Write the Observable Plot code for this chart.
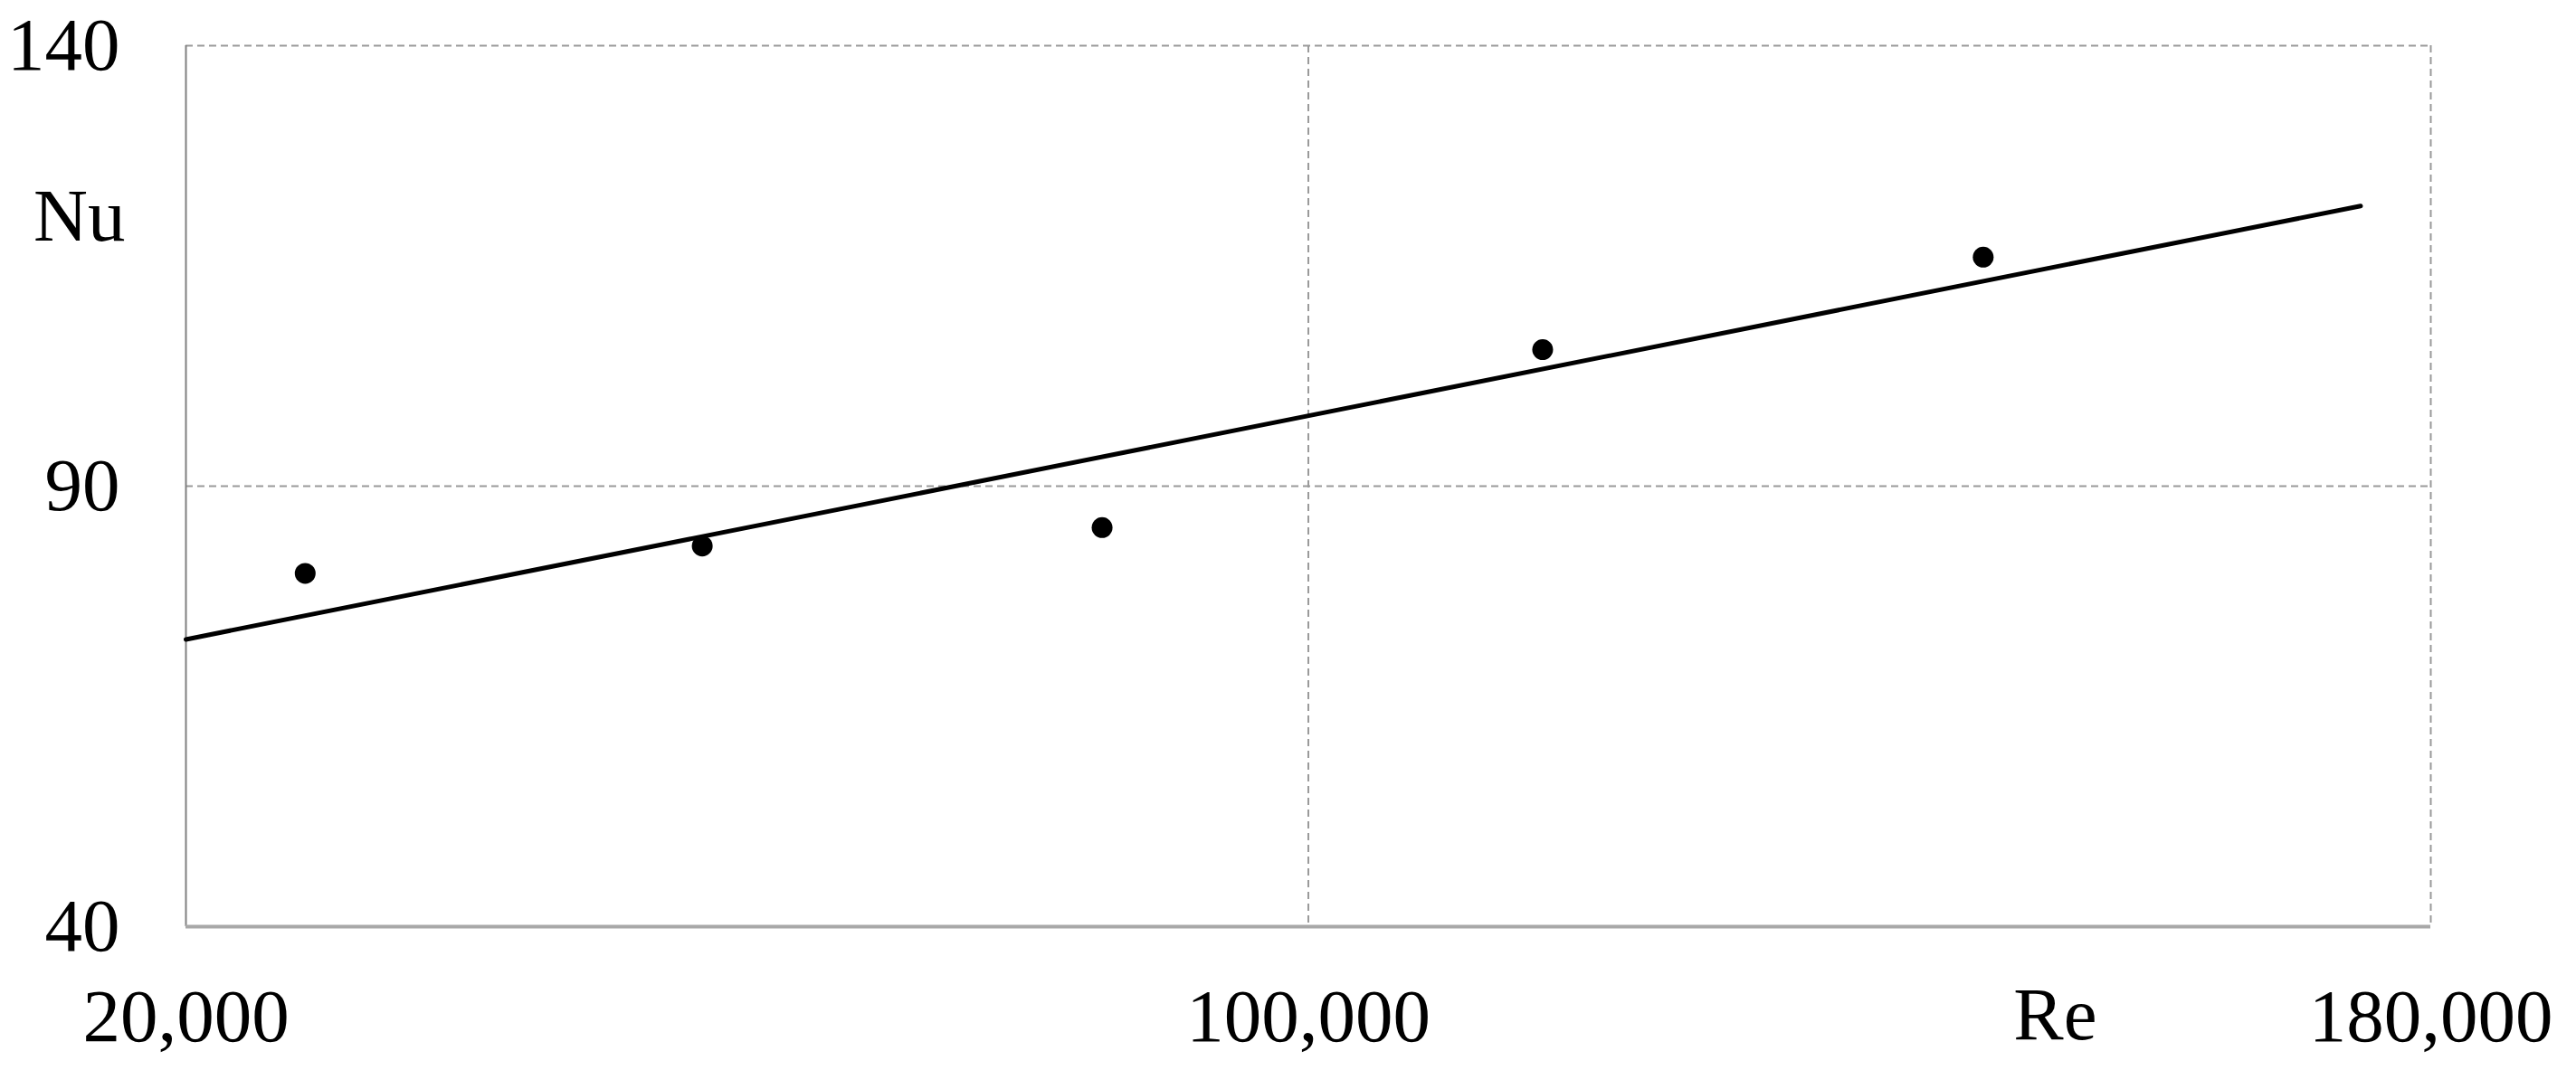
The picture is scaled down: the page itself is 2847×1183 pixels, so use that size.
<!DOCTYPE html>
<html>
<head>
<meta charset="utf-8">
<script src="https://cdn.jsdelivr.net/npm/d3@7"></script>
<script src="https://cdn.jsdelivr.net/npm/@observablehq/plot@0.6"></script>
<style>
  html, body { margin: 0; padding: 0; background: #fff; }
  #chart svg { display: block; }
</style>
</head>
<body>
<div id="chart"></div>
<script>
// Measured data points
const reValues = [28500, 56800, 85300, 116700, 148100];
const nuValues = [80.1, 83.2, 85.3, 105.5, 116.0];

// Trend line (linear fit) endpoints as drawn
const fitRe = [20000, 175000];
const fitNu = [72.6, 121.8];

// Axis ticks
const xTicks = [20000, 100000, 180000];
const yTicks = [40, 90, 140];
const xGrid = [100000, 180000];
const yGrid = [90, 140];

const points = reValues.map((re, i) => ({Re: re, Nu: nuValues[i]}));
const fit = fitRe.map((re, i) => ({Re: re, Nu: fitNu[i]}));

const fontFamily = '"Liberation Serif", "Times New Roman", serif';

const chart = Plot.plot({
  width: 2847,
  height: 1183,
  marginLeft: 205,
  marginRight: 161,
  marginTop: 50,
  marginBottom: 159,
  style: { fontFamily, fontSize: "82px", color: "#000", background: "#fff" },
  x: { domain: [20000, 180000], ticks: xTicks, tickFormat: d3.format(","), label: null },
  y: { domain: [40, 140], ticks: yTicks, label: null },
  marks: [
    Plot.ruleY(yGrid, { stroke: "#9a9a9a", strokeWidth: 2, strokeDasharray: "8,5" }),
    Plot.ruleX(xGrid, { stroke: "#9a9a9a", strokeWidth: 2, strokeDasharray: "8,5" }),
    Plot.ruleX([20000], { stroke: "#808080", strokeWidth: 2 }),
    Plot.ruleY([40], { stroke: "#a8a8a8", strokeWidth: 4 }),
    Plot.axisX({ ticks: xTicks, tickFormat: d3.format(","), tickSize: 0, tickPadding: 68, fontSize: 83, label: null }),
    Plot.axisY({ ticks: yTicks, tickSize: 0, tickPadding: 73, fontSize: 83, label: null }),
    Plot.line(fit, { x: "Re", y: "Nu", stroke: "#000", strokeWidth: 5 }),
    Plot.dot(points, { x: "Re", y: "Nu", r: 11.5, fill: "#000", stroke: "none" }),
    Plot.text(["Nu"], { text: d => d, frameAnchor: "top-left", textAnchor: "end", dx: -67, dy: 157, fontSize: 83, fill: "#000" }),
    Plot.text(["Re"], { text: d => d, frameAnchor: "bottom-right", textAnchor: "end", lineAnchor: "top", dx: -369, dy: 66, fontSize: 83, fill: "#000" })
  ]
});

document.getElementById("chart").appendChild(chart);
</script>
</body>
</html>
